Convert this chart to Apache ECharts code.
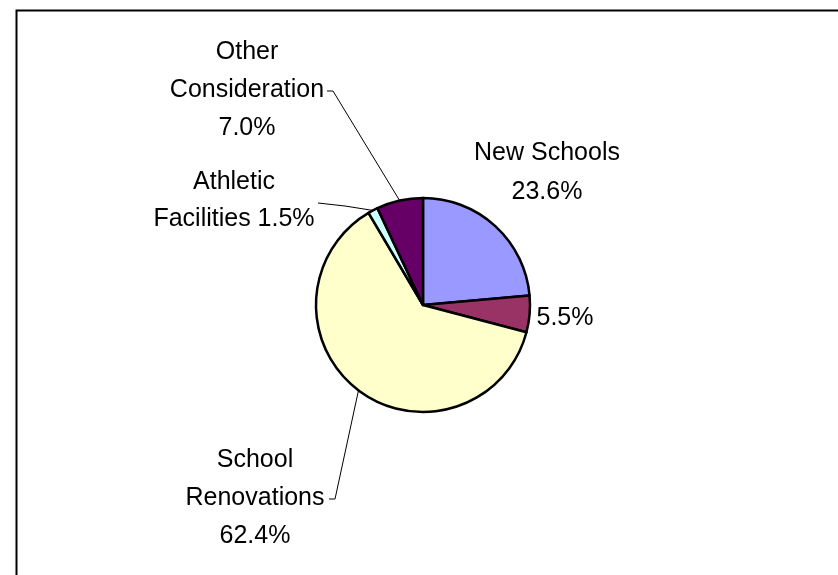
<!DOCTYPE html>
<html><head><meta charset="utf-8">
<script src="https://cdn.jsdelivr.net/npm/echarts@6/dist/echarts.min.js"></script>
<style>html,body{margin:0;padding:0;background:#fff}#c{width:838px;height:575px}</style>
</head><body><div id="c"></div>
<script>
// ---- data ----
const categories = ['New Schools', 'Unlabelled', 'School Renovations', 'Athletic Facilities', 'Other Consideration'];
const values = [23.6, 5.5, 62.4, 1.5, 7.0];
const labelTemplates = ['New Schools\n{p}', '{p}', 'School\nRenovations\n{p}', 'Athletic\nFacilities {p}', 'Other\nConsideration\n{p}'];

// ---- styles / layout ----
const colors = ['#9999FF', '#993366', '#FFFFCC', '#CCFFFF', '#660066'];
const CX = 423, CY = 305, R = 107;
const labelPlace = [
  { x: 547, y: 173, lh: 39 },
  { x: 565, y: 318, lh: 38 },
  { x: 255, y: 498, lh: 38, line: [[335, 499], [329, 499]] },
  { x: 234, y: 200.5, lh: 37, line: [[345, 206], [318, 203]] },
  { x: 247, y: 90, lh: 38, line: [[333, 91], [327, 91]] }
];

const total = values.reduce((a, b) => a + b, 0);
function edgePoint(i) {
  let before = 0;
  for (let k = 0; k < i; k++) before += values[k];
  const mid = (before + values[i] / 2) / total * 2 * Math.PI;
  return [CX + R * Math.sin(mid), CY - R * Math.cos(mid)];
}

const chart = echarts.init(document.getElementById('c'), null, { renderer: 'canvas' });
chart.setOption({
  backgroundColor: '#ffffff',
  animation: false,
  graphic: [{
    type: 'rect', left: 14, top: 8,
    shape: { width: 900, height: 700 },
    style: { fill: 'none', stroke: '#000', lineWidth: 2 }
  }],
  series: [{
    type: 'pie',
    center: [CX, CY],
    radius: R,
    startAngle: 90,
    clockwise: true,
    avoidLabelOverlap: false,
    itemStyle: { borderColor: '#000', borderWidth: 2.5 },
    label: {
      show: true,
      color: '#000',
      fontFamily: '"Liberation Sans", Arial, sans-serif',
      fontSize: 25,
      lineHeight: 38,
      align: 'center',
      formatter: p => labelTemplates[p.dataIndex].replace('{p}', p.value.toFixed(1) + '%')
    },
    labelLine: { show: true, lineStyle: { color: '#000', width: 1 } },
    labelLayout: function (params) {
      const i = params.dataIndex;
      const lp = labelPlace[i];
      const out = { x: lp.x, y: lp.y, align: 'center', verticalAlign: 'middle' };
      if (lp.line) {
        out.labelLinePoints = [edgePoint(i), lp.line[0], lp.line[1]];
      }
      return out;
    },
    data: categories.map((c, i) => ({
      name: c,
      value: values[i],
      itemStyle: { color: colors[i] },
      label: { lineHeight: labelPlace[i].lh },
      labelLine: { show: !!labelPlace[i].line }
    }))
  }]
});
</script>
</body></html>
